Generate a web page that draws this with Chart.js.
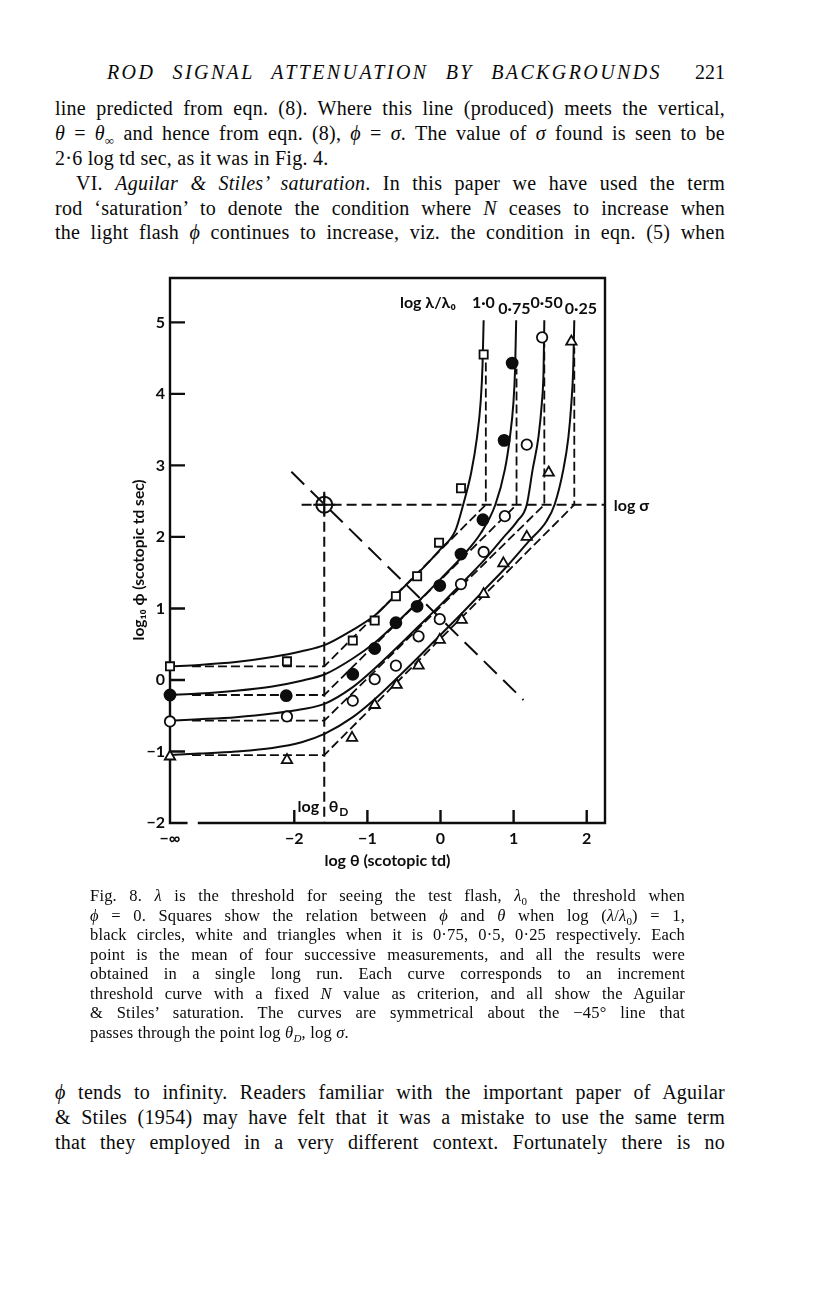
<!DOCTYPE html>
<html>
<head>
<meta charset="utf-8">
<script src="https://cdn.jsdelivr.net/npm/chart.js@4.4.1/dist/chart.umd.min.js"></script>
<style>
body { margin:0; background:#fff; width:816px; height:1296px; position:relative; overflow:hidden; color:#0a0a0a; }
.ln { position:absolute; white-space:nowrap; font-family:"Liberation Serif","DejaVu Serif",serif; }
.bd { left:55px; width:670px; font-size:20px; line-height:24px; letter-spacing:0.25px; text-align:justify; text-align-last:justify; }
.bd.last { text-align-last:left; }
.cap { left:90px; width:595px; font-size:16.5px; line-height:19px; letter-spacing:0.2px; text-align:justify; text-align-last:justify; }
.cap.last { text-align-last:left; }
.hd { font-style:italic; font-size:20px; line-height:24px; letter-spacing:2.4px; }
#wrap { position:absolute; left:100px; top:260px; width:580px; height:640px; }
</style>
</head>
<body>
<div class="ln hd" style="left:107px;top:60px;width:555px;text-align:justify;text-align-last:justify;">ROD SIGNAL ATTENUATION BY BACKGROUNDS</div>
<div class="ln" style="left:660px;top:60px;width:65px;text-align:right;font-size:20px;line-height:24px;">221</div>

<div class="ln bd" style="top:96px;">line predicted from eqn. (8). Where this line (produced) meets the vertical,</div>
<div class="ln bd" style="top:121px;"><i>θ</i> = <i>θ</i><sub style="font-size:13px">∞</sub> and hence from eqn. (8), <i>ϕ</i> = <i>σ</i>. The value of <i>σ</i> found is seen to be</div>
<div class="ln bd last" style="top:146px;">2·6 log td sec, as it was in Fig. 4.</div>
<div class="ln bd" style="top:171px;left:76px;width:649px;">VI. <i>Aguilar &amp; Stiles’ saturation</i>. In this paper we have used the term</div>
<div class="ln bd" style="top:196px;">rod ‘saturation’ to denote the condition where <i>N</i> ceases to increase when</div>
<div class="ln bd" style="top:220px;">the light flash <i>ϕ</i> continues to increase, viz. the condition in eqn. (5) when</div>

<div id="wrap"><canvas id="fig8" width="580" height="640"></canvas></div>

<div class="ln cap" style="top:886px;">Fig. 8. <i>λ</i> is the threshold for seeing the test flash, <i>λ</i><sub style="font-size:11px">0</sub> the threshold when</div>
<div class="ln cap" style="top:905.5px;"><i>ϕ</i> = 0. Squares show the relation between <i>ϕ</i> and <i>θ</i> when log (<i>λ</i>/<i>λ</i><sub style="font-size:11px">0</sub>) = 1,</div>
<div class="ln cap" style="top:925px;">black circles, white and triangles when it is 0·75, 0·5, 0·25 respectively. Each</div>
<div class="ln cap" style="top:944.5px;">point is the mean of four successive measurements, and all the results were</div>
<div class="ln cap" style="top:964px;">obtained in a single long run. Each curve corresponds to an increment</div>
<div class="ln cap" style="top:983.5px;">threshold curve with a fixed <i>N</i> value as criterion, and all show the Aguilar</div>
<div class="ln cap" style="top:1003px;">&amp; Stiles’ saturation. The curves are symmetrical about the −45° line that</div>
<div class="ln cap last" style="top:1022.5px;">passes through the point log <i>θ</i><sub style="font-size:11px"><i>D</i></sub>, log <i>σ</i>.</div>

<div class="ln bd" style="top:1080px;"><i>ϕ</i> tends to infinity. Readers familiar with the important paper of Aguilar</div>
<div class="ln bd" style="top:1105px;">&amp; Stiles (1954) may have felt that it was a mistake to use the same term</div>
<div class="ln bd" style="top:1130px;">that they employed in a very different context. Fortunately there is no</div>

<script>
// axis ranges (log units); -infinity sits on the left frame
var xInf = -3.70;
var xMin = -3.70, xMax = 2.25, yMin = -2, yMax = 5.62;
var xTickVals = [xInf, -2, -1, 0, 1, 2];
var yTickVals = [-2, -1, 0, 1, 2, 3, 4, 5];

// measured points, log(lambda/lambda0) = 1.0, 0.75, 0.50, 0.25
var squareX = [xInf, -2.10, -1.20, -0.90, -0.61, -0.32, -0.02, 0.28, 0.59];
var squareY = [0.19, 0.26, 0.55, 0.83, 1.17, 1.45, 1.92, 2.68, 4.55];
var filledX = [xInf, -2.11, -1.20, -0.90, -0.61, -0.32, -0.01, 0.28, 0.58, 0.87, 0.98];
var filledY = [-0.21, -0.22, 0.08, 0.44, 0.80, 1.03, 1.32, 1.76, 2.24, 3.35, 4.43];
var openX = [xInf, -2.10, -1.20, -0.90, -0.61, -0.30, -0.01, 0.28, 0.59, 0.88, 1.18, 1.39];
var openY = [-0.58, -0.51, -0.29, 0.01, 0.20, 0.61, 0.85, 1.34, 1.79, 2.29, 3.29, 4.79];
var triX = [xInf, -2.10, -1.21, -0.90, -0.60, -0.30, -0.01, 0.29, 0.59, 0.86, 1.18, 1.48, 1.79];
var triY = [-1.07, -1.12, -0.81, -0.35, -0.07, 0.20, 0.56, 0.84, 1.20, 1.63, 2.00, 2.90, 4.73];

// drawn curves
var curve1X = [xInf, -3.3, -2.8, -2.3, -1.9, -1.58, -1.2, -0.9, -0.6, -0.3, 0.0, 0.2, 0.31, 0.42, 0.50, 0.55, 0.575, 0.59];
var curve1Y = [0.19, 0.21, 0.25, 0.32, 0.40, 0.49, 0.70, 0.90, 1.20, 1.50, 1.83, 2.08, 2.45, 2.90, 3.40, 3.90, 4.40, 5.03];
var curve2X = [xInf, -3.3, -2.8, -2.3, -1.9, -1.58, -1.2, -0.9, -0.6, -0.3, 0.0, 0.3, 0.55, 0.75, 0.88, 0.95, 0.997, 1.02, 1.035];
var curve2Y = [-0.21, -0.19, -0.15, -0.09, -0.01, 0.08, 0.30, 0.52, 0.80, 1.10, 1.41, 1.73, 2.05, 2.45, 2.94, 3.40, 3.87, 4.34, 5.03];
var curve3X = [xInf, -3.3, -2.8, -2.3, -1.9, -1.58, -1.2, -0.9, -0.6, -0.3, 0.0, 0.3, 0.6, 0.85, 1.05, 1.18, 1.26, 1.34, 1.386, 1.41, 1.42];
var curve3Y = [-0.57, -0.55, -0.52, -0.47, -0.41, -0.33, -0.10, 0.16, 0.45, 0.75, 1.05, 1.36, 1.68, 1.98, 2.22, 2.45, 2.94, 3.40, 3.87, 4.34, 5.03];
var curve4X = [xInf, -3.3, -2.8, -2.3, -1.9, -1.58, -1.2, -0.9, -0.6, -0.3, 0.0, 0.3, 0.6, 0.9, 1.2, 1.45, 1.56, 1.68, 1.75, 1.79, 1.815, 1.83];
var curve4Y = [-1.05, -1.03, -1.00, -0.95, -0.87, -0.75, -0.52, -0.27, 0.02, 0.32, 0.63, 0.94, 1.26, 1.58, 1.93, 2.22, 2.45, 2.94, 3.40, 3.87, 4.34, 5.03];

// dashed construction lines
var logThetaD = -1.59, logSigma = 2.45;
var baseY = [0.19, -0.21, -0.57, -1.05];
var vertX = [0.62, 1.04, 1.42, 1.83];
var vertTop = [4.50, 4.35, 4.70, 4.65];
var diagX = [-2.04, 1.135];
var diagY = [2.91, -0.28];

var ink = '#0d0d0d';
function pts(xs, ys) { return xs.map(function(x, i) { return {x: x, y: ys[i]}; }); }
function minus(v) { return v < 0 ? '\u2212' + Math.abs(v) : String(v); }

var datasets = [];
function addMarks(xs, ys, style, fill, r) {
  datasets.push({data: pts(xs, ys), showLine: false, pointStyle: style, pointRadius: r,
    pointBackgroundColor: fill, pointBorderColor: ink, pointBorderWidth: 1.8, clip: false, order: 1});
}
addMarks(squareX, squareY, 'rect', '#fff', 5.8);
addMarks(filledX, filledY, 'circle', ink, 5.5);
addMarks(openX, openY, 'circle', '#fff', 5.2);
addMarks(triX, triY, 'triangle', '#fff', 6);

[[curve1X, curve1Y], [curve2X, curve2Y], [curve3X, curve3Y], [curve4X, curve4Y]].forEach(function(c) {
  datasets.push({data: pts(c[0], c[1]), showLine: true, pointRadius: 0, borderColor: ink, borderWidth: 2,
    cubicInterpolationMode: 'monotone', order: 2});
});

for (var i = 0; i < 4; i++) {
  datasets.push({data: [{x: -3.40, y: baseY[i]}, {x: logThetaD, y: baseY[i]}, {x: vertX[i], y: logSigma}, {x: vertX[i], y: vertTop[i]}],
    showLine: true, pointRadius: 0, borderColor: ink, borderWidth: 1.8, borderDash: [9, 4], tension: 0, order: 3});
}
datasets.push({data: [{x: -1.90, y: logSigma}, {x: xMax, y: logSigma}], showLine: true, pointRadius: 0,
  borderColor: ink, borderWidth: 2, borderDash: [10, 5], order: 3});
datasets.push({data: [{x: logThetaD, y: 2.63}, {x: logThetaD, y: yMin}], showLine: true, pointRadius: 0,
  borderColor: ink, borderWidth: 2, borderDash: [10, 5], order: 3});
datasets.push({data: pts(diagX, diagY), showLine: true, pointRadius: 0,
  borderColor: ink, borderWidth: 2, borderDash: [18, 9], order: 3});
datasets.push({data: [{x: logThetaD, y: logSigma}], showLine: false, pointStyle: 'circle', pointRadius: 8,
  pointBackgroundColor: 'rgba(0,0,0,0)', pointBorderColor: ink, pointBorderWidth: 2, order: 1});
datasets.push({data: [{x: logThetaD, y: logSigma}], showLine: false, pointStyle: 'cross', pointRadius: 11,
  pointBorderColor: ink, pointBorderWidth: 2, order: 1});

var notes = [
  {text: 'log λ/λ₀', x: -0.555, y: 5.27},
  {text: '1·0', x: 0.43, y: 5.27},
  {text: '0·75', x: 0.79, y: 5.19},
  {text: '0·50', x: 1.23, y: 5.27},
  {text: '0·25', x: 1.70, y: 5.19},
  {text: 'log σ', x: 2.37, y: 2.43},
  {text: 'log', x: -1.66, y: -1.78, align: 'right'},
  {text: 'θ', sub: 'D', x: -1.53, y: -1.78}
];

var labelFont = 'bold 16px Lato, "DejaVu Sans", sans-serif';

var framePlugin = {
  id: 'frame',
  beforeDatasetsDraw: function(chart) {
    var ctx = chart.ctx, a = chart.chartArea, x = chart.scales.x, y = chart.scales.y;
    ctx.save();
    ctx.strokeStyle = ink;
    ctx.lineWidth = 2.4;
    var gapL = x.getPixelForValue(-3.46), gapR = x.getPixelForValue(-3.32);
    ctx.beginPath();
    ctx.moveTo(gapL, a.bottom);
    ctx.lineTo(a.left, a.bottom);
    ctx.lineTo(a.left, a.top);
    ctx.lineTo(a.right, a.top);
    ctx.lineTo(a.right, a.bottom);
    ctx.lineTo(gapR, a.bottom);
    ctx.stroke();
    ctx.beginPath();
    yTickVals.forEach(function(v) {
      if (v === yMin) return;
      var p = y.getPixelForValue(v);
      ctx.moveTo(a.left, p); ctx.lineTo(a.left + 15, p);
    });
    xTickVals.forEach(function(v) {
      if (v === xInf) return;
      var p = x.getPixelForValue(v);
      ctx.moveTo(p, a.bottom); ctx.lineTo(p, a.bottom - 13);
    });
    ctx.stroke();
    ctx.restore();
  },
  afterDraw: function(chart) {
    var ctx = chart.ctx, x = chart.scales.x, y = chart.scales.y;
    ctx.save();
    ctx.fillStyle = ink;
    ctx.font = labelFont;
    ctx.textBaseline = 'middle';
    notes.forEach(function(n) {
      var px = x.getPixelForValue(n.x), py = y.getPixelForValue(n.y);
      ctx.textAlign = n.align || 'left';
      ctx.fillText(n.text, px, py);
      if (n.sub) {
        var w = ctx.measureText(n.text).width;
        ctx.font = 'bold 12px Lato, "DejaVu Sans", sans-serif';
        ctx.textAlign = 'left';
        ctx.fillText(n.sub, px + w + 1, py + 5);
        ctx.font = labelFont;
      }
    });
    ctx.restore();
  }
};

new Chart(document.getElementById('fig8'), {
  type: 'scatter',
  data: {datasets: datasets},
  options: {
    responsive: false,
    devicePixelRatio: 1,
    animation: false,
    events: [],
    layout: {padding: {top: 18, right: 75, left: 0, bottom: 0}},
    plugins: {legend: {display: false}, tooltip: {enabled: false}},
    scales: {
      x: {
        type: 'linear', min: xMin, max: xMax,
        grid: {display: false, drawTicks: false},
        border: {display: false},
        afterBuildTicks: function(s) { s.ticks = xTickVals.map(function(v) { return {value: v}; }); },
        afterFit: function(s) { s.height = 77; },
        ticks: {autoSkip: false, maxRotation: 0, padding: 6, color: ink,
          font: {family: 'Lato, "DejaVu Sans", sans-serif', size: 16, weight: 'bold'},
          callback: function(v) { return v === xInf ? '\u2212\u221e' : minus(v); }},
        title: {display: true, text: 'log θ (scotopic td)', color: ink, padding: {top: 0, bottom: 30},
          font: {family: 'Lato, "DejaVu Sans", sans-serif', size: 16, weight: 'bold'}}
      },
      y: {
        type: 'linear', min: yMin, max: yMax,
        grid: {display: false, drawTicks: false},
        border: {display: false},
        afterBuildTicks: function(s) { s.ticks = yTickVals.map(function(v) { return {value: v}; }); },
        afterFit: function(s) { s.width = 70; },
        ticks: {autoSkip: false, padding: 5, color: ink,
          font: {family: 'Lato, "DejaVu Sans", sans-serif', size: 16, weight: 'bold'},
          callback: function(v) { return minus(v); }},
        title: {display: true, text: 'log₁₀ ϕ (scotopic td sec)     ', color: ink, padding: {top: 30, bottom: 0},
          font: {family: 'Lato, "DejaVu Sans", sans-serif', size: 15.5, weight: 'bold'}}
      }
    }
  },
  plugins: [framePlugin]
});
</script>
</body>
</html>
